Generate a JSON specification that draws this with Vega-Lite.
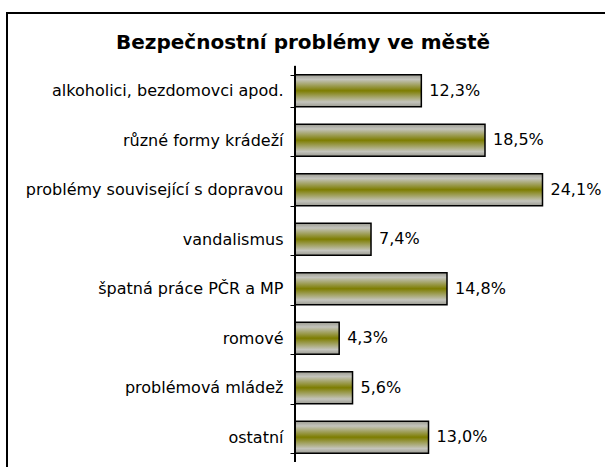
{
  "$schema": "https://vega.github.io/schema/vega-lite/v6.json",
  "width": 612,
  "height": 460,
  "autosize": "none",
  "padding": {"left": 7, "top": 13, "right": 0, "bottom": 0},
  "background": "white",
  "title": {
    "text": "Bezpečnostní problémy ve městě",
    "font": "DejaVu Sans",
    "fontSize": 20,
    "fontWeight": "bold",
    "color": "black",
    "anchor": "start",
    "frame": "group",
    "offset": -48,
    "dx": 109
  },
  "config": {
    "view": {"stroke": "black", "strokeWidth": 2},
    "locale": {
      "number": {"decimal": ",", "thousands": " ", "grouping": [3], "currency": ["", " Kč"]}
    }
  },
  "data": {
    "values": [
      {"kategorie": "alkoholici, bezdomovci apod.", "podil": 0.123},
      {"kategorie": "různé formy krádeží", "podil": 0.185},
      {"kategorie": "problémy související s dopravou", "podil": 0.241},
      {"kategorie": "vandalismus", "podil": 0.074},
      {"kategorie": "špatná práce PČR a MP", "podil": 0.148},
      {"kategorie": "romové", "podil": 0.043},
      {"kategorie": "problémová mládež", "podil": 0.056},
      {"kategorie": "ostatní", "podil": 0.130}
    ]
  },
  "encoding": {
    "y": {
      "field": "kategorie",
      "type": "nominal",
      "sort": null,
      "scale": {"paddingInner": 0.35, "paddingOuter": 0.8215, "align": 0.758},
      "axis": {
        "title": null,
        "offset": -288,
        "domain": false,
        "labelFont": "DejaVu Sans",
        "labelFontSize": 16,
        "labelColor": "black",
        "labelPadding": 7,
        "labelLimit": 0,
        "tickBand": "extent",
        "tickSize": 5,
        "tickColor": "black"
      }
    },
    "x": {
      "field": "podil",
      "type": "quantitative",
      "scale": {"domain": [-0.2805, 0.3155], "nice": false, "zero": false},
      "axis": null
    }
  },
  "layer": [
    {
      "mark": {
        "type": "bar",
        "stroke": "black",
        "strokeWidth": 1.5,
        "color": {
          "gradient": "linear",
          "x1": 0, "y1": 0, "x2": 0, "y2": 1,
          "stops": [
            {"offset": 0, "color": "#9a9a90"},
            {"offset": 0.15, "color": "#c4c4bc"},
            {"offset": 0.5, "color": "#7d7d00"},
            {"offset": 0.85, "color": "#c4c4bc"},
            {"offset": 1, "color": "#9a9a90"}
          ]
        }
      },
      "encoding": {
        "x2": {"datum": 0}
      }
    },
    {
      "mark": {
        "type": "text",
        "align": "left",
        "dx": 8,
        "font": "DejaVu Sans",
        "fontSize": 16,
        "color": "black"
      },
      "encoding": {
        "text": {"field": "podil", "type": "quantitative", "format": ".1%"}
      }
    },
    {
      "mark": {"type": "rule", "color": "black", "strokeWidth": 1},
      "encoding": {
        "x": {"datum": 0, "type": "quantitative"},
        "y": {"datum": "alkoholici, bezdomovci apod.", "type": "nominal", "bandPosition": -0.27},
        "y2": {"datum": "ostatní", "bandPosition": 1.27}
      }
    }
  ]
}
